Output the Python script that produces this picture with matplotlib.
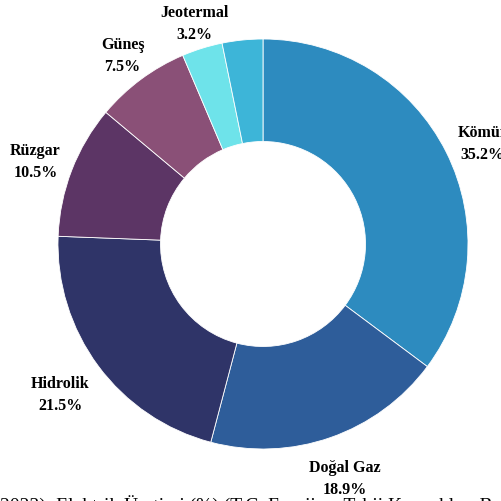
import matplotlib
matplotlib.use("Agg")
import matplotlib.pyplot as plt
import numpy as np

labels = ["Kömür", "Doğal Gaz", "Hidrolik", "Rüzgar", "Güneş", "Jeotermal", ""]
values = [35.2, 18.9, 21.5, 10.5, 7.5, 3.2, 3.2]
colors = ["#2d8bbf", "#2e5d9a", "#2f3468", "#5c3565", "#8a5077", "#6ee3ea", "#3db5d8"]
caption = "2023): Elektrik Üretimi (%) (T.C. Enerji ve Tabii Kaynakları Bakanlığı, 2023)"

# label distance from centre (in radii) and small nudges (in radii), per slice
label_dist = [1.22, 1.21, 1.23, 1.19, 1.15, 1.13, 1.1]
label_dx = [-0.02, 0.0, 0.0, 0.0, 0.0, 0.0, 0.0]
label_dy = [-0.055, 0.0, 0.0, -0.025, 0.0, 0.0, 0.0]

W = H = 502
fig = plt.figure(figsize=(W / 100, H / 100), dpi=100)
cx, cy, R = 263, 257, 205
ax = fig.add_axes([(cx - R) / W, (cy - R) / H, 2 * R / W, 2 * R / H])

wedges, _ = ax.pie(values, colors=colors, startangle=90, counterclock=False,
                   radius=1,
                   wedgeprops=dict(width=0.5, edgecolor="white", linewidth=0.6))

for w, lab, v, d, dx, dy in zip(wedges, labels, values, label_dist, label_dx, label_dy):
    if not lab:
        continue
    ang = np.deg2rad((w.theta1 + w.theta2) / 2)
    ax.text(d * np.cos(ang) + dx, d * np.sin(ang) + dy, f"{lab}\n{v:.1f}%",
            family="Liberation Serif", fontweight="bold", fontsize=11.5,
            ha="center", va="center", linespacing=1.5)

ax.set_xlim(-1, 1)
ax.set_ylim(-1, 1)
ax.set_aspect("equal")
ax.axis("off")

fig.text(0.0, 6.5 / H, caption, family="Liberation Serif", fontsize=14,
         ha="left", va="top")

fig.savefig("out.png", dpi=100)
